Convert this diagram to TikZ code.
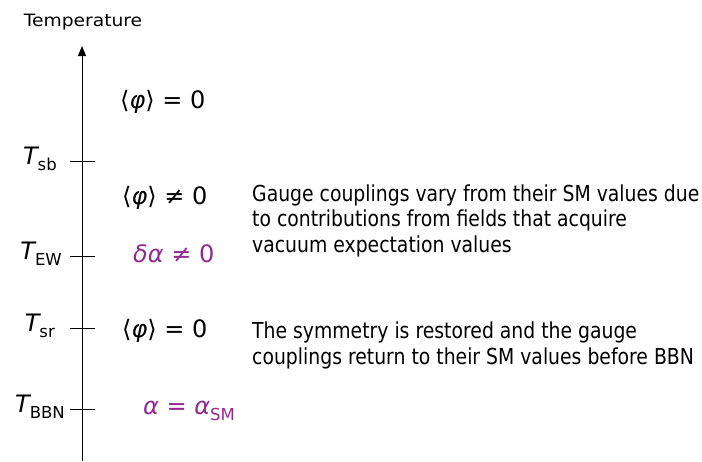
\documentclass[tikz,border=0pt]{standalone}
\usepackage{fontspec}
\setmainfont{DejaVu Sans}
\newfontfamily\notefont[FakeStretch=0.855]{DejaVu Sans}
\newfontfamily\axisfont[FakeStretch=1.1]{DejaVu Sans}
\usetikzlibrary{arrows.meta}
\definecolor{ThermoInk}{HTML}{000000}
\definecolor{ThermoPurple}{HTML}{912A91}
\newcommand{\lowsub}[1]{\raisebox{-0.28em}{\fontsize{16.5}{16.5}\selectfont #1}}

\begin{document}
\begin{tikzpicture}[x=1pt,y=-1pt,
    ticklabel/.style={anchor=base east,inner sep=0pt,font=\fontsize{24}{24}\selectfont},
    phase/.style={anchor=base west,inner sep=0pt,font=\fontsize{24}{24}\selectfont},
    note/.style={anchor=base west,inner sep=0pt,align=left,font=\notefont\fontsize{22}{25.5}\selectfont}]
  \useasboundingbox (0,0) rectangle (702,461);
  % temperature axis
  \coordinate (axisfoot) at (82,461);
  \coordinate (axistop) at (82,46);
  \node[inner sep=0pt,anchor=base,font=\axisfont\fontsize{17}{17}\selectfont] (ylabel) at (83,26) {Temperature};
  \draw[ThermoInk,line width=1pt,-{Triangle[length=10pt,width=8pt]}] (axisfoot) -- (axistop);
  \foreach \y in {161,256,328,409}
    \draw[ThermoInk,line width=1pt] (70,\y) -- (95,\y);
  \node[ticklabel] (tsb) at (57,164) {\itshape T\lowsub{\upshape sb}};
  \node[ticklabel] (tew) at (62,259) {\itshape T\lowsub{\upshape EW}};
  \node[ticklabel] (tsr) at (55,331) {\itshape T\lowsub{\upshape sr}};
  \node[ticklabel] (tbbn) at (65,412) {\itshape T\lowsub{\upshape BBN}};
  % phases
  \node[phase] (vevzero) at (120,108) {⟨{\itshape φ}⟩ = 0};
  \node[phase] (vevon) at (122,204) {⟨{\itshape φ}⟩ ≠ 0};
  \node[phase,text=ThermoPurple] (shift) at (133,262) {{\itshape δα} ≠ 0};
  \node[phase] (vevoff) at (122,337) {⟨{\itshape φ}⟩ = 0};
  \node[phase,text=ThermoPurple] (smvalue) at (143,414) {{\itshape α} = {\itshape α}\lowsub{SM}};
  % comments (base = last line)
  \node[note] (varynote) at (252,252) {Gauge couplings vary from their SM values due\\to contributions from fields that acquire\\vacuum expectation values};
  \node[note] (restorenote) at (252,364) {The symmetry is restored and the gauge\\couplings return to their SM values before BBN};
\end{tikzpicture}
\end{document}
